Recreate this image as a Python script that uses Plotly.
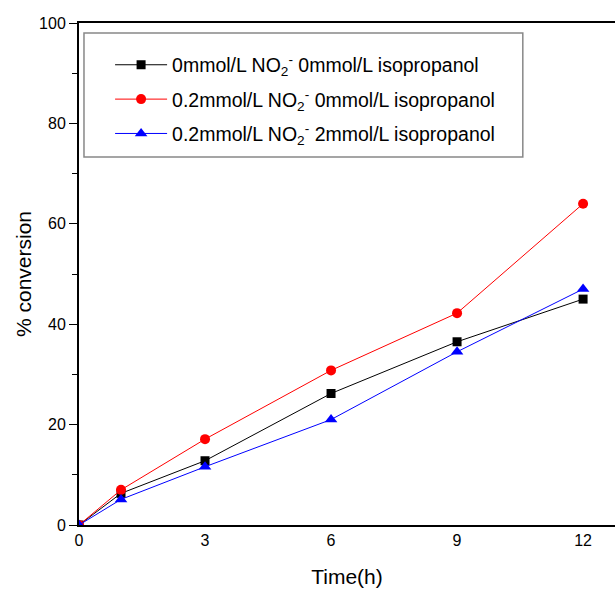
import plotly.graph_objects as go

time_h = [0, 1, 3, 6, 9, 12]
s_black = [0, 6.3, 12.8, 26.2, 36.5, 45.0]
s_red = [0, 7.0, 17.1, 30.8, 42.2, 64.0]
s_blue = [0, 5.1, 11.6, 21.0, 34.5, 47.0]
names = [
    "0mmol/L NO<sub>2</sub><sup>-</sup> 0mmol/L isopropanol",
    "0.2mmol/L NO<sub>2</sub><sup>-</sup> 0mmol/L isopropanol",
    "0.2mmol/L NO<sub>2</sub><sup>-</sup> 2mmol/L isopropanol",
]
x_ticks = [0, 3, 6, 9, 12]
y_ticks = [0, 20, 40, 60, 80, 100]

fig = go.Figure()
styles = [("black", "square", 9), ("#ff0000", "circle", 10), ("#0000ff", "triangle-up", 11)]
for i, (ys, nm, (c, sym, sz)) in enumerate(zip([s_black, s_red, s_blue], names, styles)):
    fig.add_trace(go.Scatter(
        x=time_h, y=ys, name=nm, mode="lines+markers", legendgroup=f"g{i}",
        line=dict(color=c, width=1),
        marker=dict(color=c, symbol=sym, size=sz),
    ))

# legend frame
fig.add_shape(type="rect", xref="paper", yref="paper",
              x0=0.0093, x1=0.828, y0=0.733, y1=0.980,
              line=dict(color="#888888", width=1.5), fillcolor="white", layer="below")

fig.update_layout(
    width=615, height=594,
    margin=dict(l=79, r=0, t=23, b=69),
    paper_bgcolor="white", plot_bgcolor="white",
    font=dict(family="Liberation Sans, Arial, sans-serif", size=16, color="black"),
    showlegend=True,
    legend=dict(
        x=0.058, y=0.955, xanchor="left", yanchor="top",
        borderwidth=0, bgcolor="rgba(0,0,0,0)",
        font=dict(size=19.5), itemwidth=52, tracegroupgap=6,
    ),
    xaxis=dict(
        range=[0, 12.76], tickvals=x_ticks, ticks="", showgrid=False, zeroline=False,
        showline=True, linecolor="black", linewidth=2, mirror=True,
        title=dict(text="Time(h)", font=dict(size=21), standoff=21),
    ),
    yaxis=dict(
        range=[0, 100], tickvals=y_ticks, ticks="outside", ticklen=8, tickwidth=1,
        tickcolor="black", showgrid=False, zeroline=False,
        showline=True, linecolor="black", linewidth=2,
        minor=dict(dtick=10, ticks="outside", ticklen=5, tickcolor="black", showgrid=False),
        title=dict(text="% conversion", font=dict(size=21), standoff=2),
    ),
)

fig.write_html("out.html")
